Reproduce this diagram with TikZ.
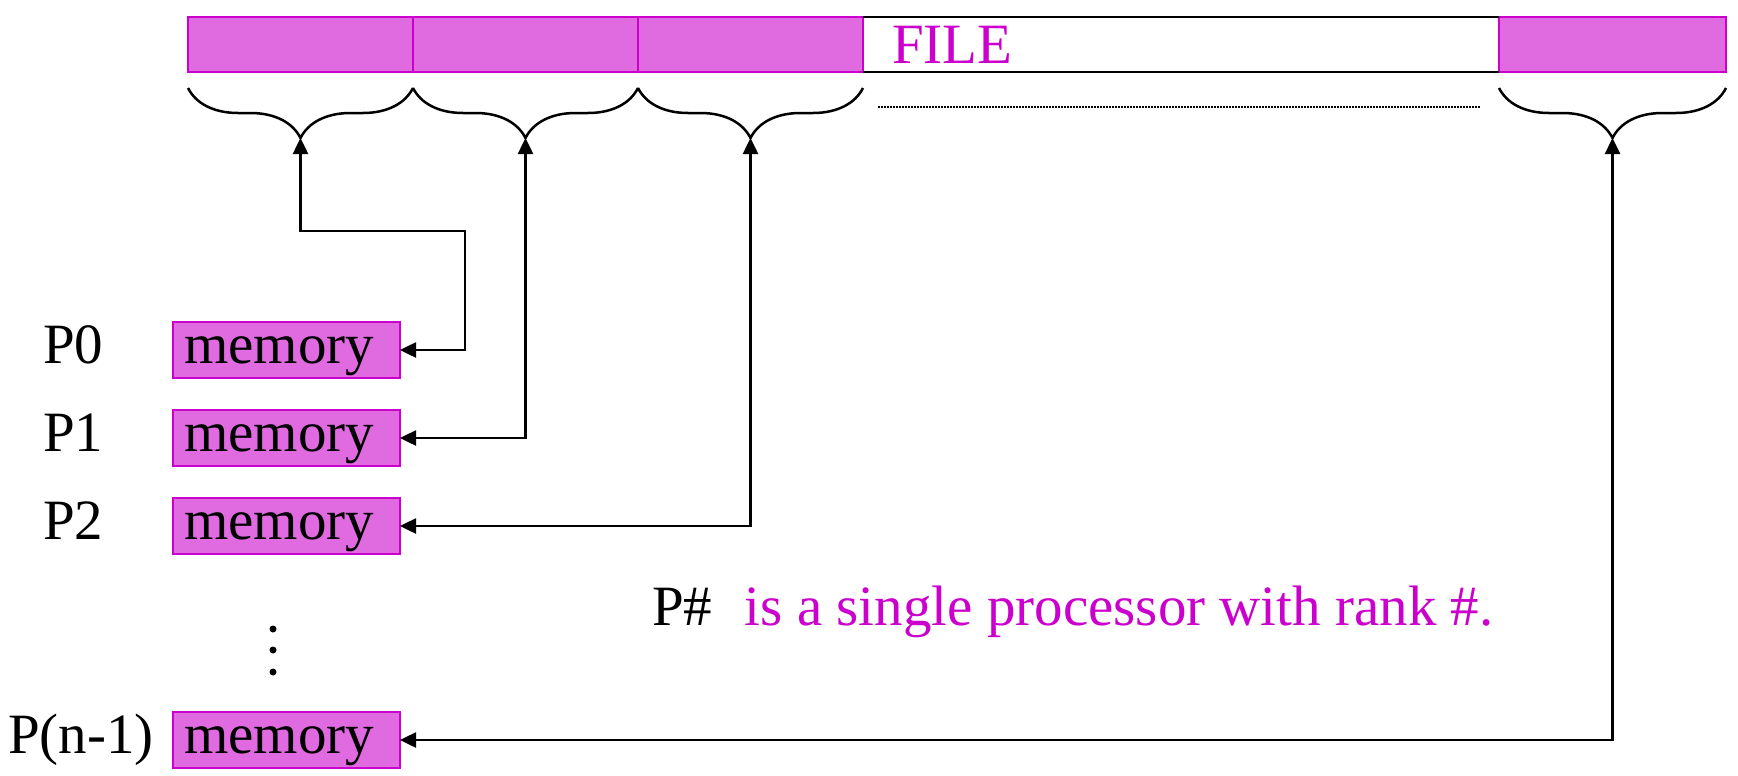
\documentclass[tikz,border=0pt]{standalone}
\usepackage{fontspec}
\setmainfont{Liberation Serif}
\usepackage{tikz}
\usetikzlibrary{arrows.meta}
\usetikzlibrary{calc}
\usetikzlibrary{positioning}
\usetikzlibrary{decorations.pathreplacing}
\definecolor{magfill}{RGB}{224,106,224}
\definecolor{magline}{RGB}{204,0,204}
\newcommand{\bigtext}{\fontsize{57}{68}\selectfont}
\tikzset{x = 1pt, y = -1pt, font = \bigtext,
  seg/.style = {draw = magline, fill = magfill, line width = 2pt, outer sep = 0pt,
    inner sep = 0pt, minimum width = 225pt, minimum height = 55pt},
  gapbox/.style = {outer sep = 0pt, inner sep = 0pt, minimum width = 636pt, minimum height = 55pt},
  mem/.style = {draw = magline, fill = magfill, line width = 2pt, outer sep = 0pt,
    text width = 205pt, align = left, inner xsep = 11pt, inner ysep = 0pt,
    minimum height = 56pt, text height = 26pt, text depth = 0pt},
  lbl/.style = {inner sep = 0pt},
  span/.style = {decorate, decoration = {brace, amplitude = 50pt}, line width = 2.5pt},
  link/.style = {line width = 2.5pt,
    {Triangle[length = 16pt, width = 15pt]}-{Triangle[length = 16pt, width = 15pt]}}}

\begin{document}
\begin{tikzpicture}
    \useasboundingbox (0,0) rectangle (1738,776);
    % file
    \node [seg] (s1) at (300.5,44.5) {};
    \node [seg, right = 0pt of s1] (s2) {};
    \node [seg, right = 0pt of s2] (s3) {};
    \node [gapbox, right = 0pt of s3] (gap) {};
    \node [seg, right = 0pt of gap, minimum width = 227pt] (s4) {};
    \draw [line width = 2.5pt] (gap.north west) -- (gap.north east) (gap.south west) -- (gap.south east);
    \node [lbl, text = magline, right = 29pt of gap.west] (file) {FILE};
    % braces
    \foreach \s in {s1, s2, s3, s4} {
      \draw [span] ($(\s.south east)+(0,16)$) -- ($(\s.south west)+(0,16)$);
      \coordinate (t\s) at ($(\s.south)+(0,66)$);
    }
    \coordinate (d1) at (878,107);
    \coordinate (d2) at (1480,107);
    \draw [line width = 2pt, dash pattern = on 1.5pt off 1.5pt] (d1) -- (d2);
    % processors
    \node [mem] (m0) at (286.5,350) {memory};
    \node [mem, below = 32pt of m0] (m1) {memory};
    \node [mem, below = 32pt of m1] (m2) {memory};
    \node [mem] (m3) at (286.5,740) {memory};
    \node [lbl, anchor = base west] (p0) at (43,363) {P0};
    \node [lbl, anchor = base west] (p1) at (43,451) {P1};
    \node [lbl, anchor = base west] (p2) at (43,539) {P2};
    \node [lbl, anchor = base west] (p3) at (8,753) {P(n-1)};
    \foreach \y in {629, 650, 672}
      \fill (273,\y) circle (3.5pt);
    % paths
    \coordinate (k0) at (465,231);
    \draw [link] (ts1) |- (k0) |- (m0.east);
    \draw [link] (ts2) |- (m1.east);
    \draw [link] (ts3) |- (m2.east);
    \draw [link] (ts4) |- (m3.east);
    % note
    \node [lbl, anchor = base west] (pnum) at (652,625) {P\#};
    \node [lbl, text = magline, right = 32pt of pnum.base east, anchor = base west] (note)
      {is a single processor with rank \#.};
  \end{tikzpicture}
\end{document}
